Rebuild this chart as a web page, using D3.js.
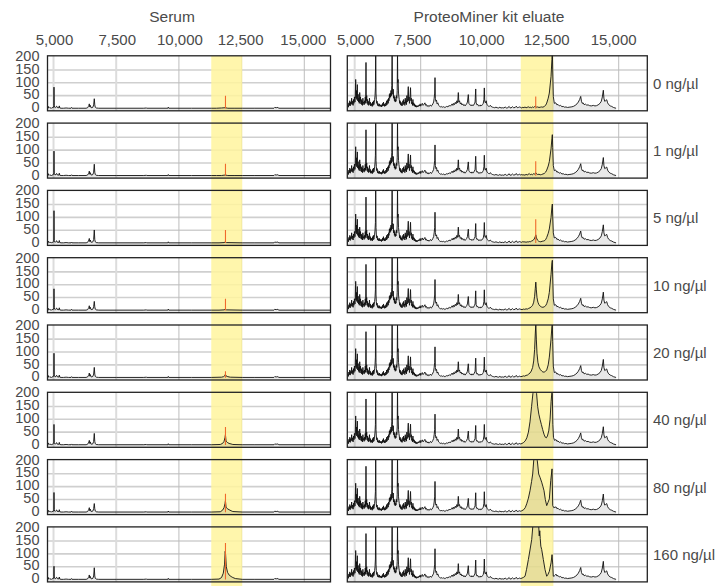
<!DOCTYPE html>
<html><head><meta charset="utf-8">
<script src="https://cdn.jsdelivr.net/npm/d3@7"></script>
<style>
body{margin:0;background:#fff}
text{font-family:"Liberation Sans",Arial,sans-serif;fill:#4a4a4a}
</style>
</head><body>
<svg id="c" width="726" height="586"></svg>
<script>
// ---------- data ----------
const columnTitles = ["Serum", "ProteoMiner kit eluate"];
const rowLabels = ["0 ng/µl","1 ng/µl","5 ng/µl","10 ng/µl","20 ng/µl","40 ng/µl","80 ng/µl","160 ng/µl"];
const xTicks = [5000, 7500, 10000, 12500, 15000];
const xTickLabels = ["5,000", "7,500", "10,000", "12,500", "15,000"];
const yTicks = [0, 50, 100, 150, 200];
const highlightRange = [11290, 12525];
const markerMz = 11857;

// serum: per-row heights of the main peaks
const serumPeakA = [83, 96, 126, 84, 95, 80, 77, 52];   // ~5,019
const serumPeakB = [38, 45, 51, 35, 40, 45, 34, 46];    // ~6,626
const serumMarker = [50, 47, 51, 45, 25, 70, 72, 142];
const eluateMarker = [47, 57, 93, null, null, null, null, null];

const serumStart = [[4760,3],[4775,6],[4792,8],[4805,2],[4830,4],[4860,1],[4890,3],[4920,1],[4950,4],[4980,2],[5000,5],[5010,12]];
const serumMid = [[5028,10],[5045,5],[5070,3],[5100,7],[5127,9],[5150,3],[5180,4],[5210,2],[5231,10],[5250,2],[5300,1],[5400,1],[5500,2],[5600,1],[5700,1],[5720,4],[5740,1],[6000,1],[6300,1],[6360,3],[6390,8],[6410,12],[6427,18],[6445,6],[6470,12],[6490,4],[6530,3],[6570,5],[6600,14]];
const serumTail = [[6645,14],[6665,5],[6700,2],[6800,1],[7500,1],[8600,1],[8700,2],[8720,1],[9560,1],[9577,5],[9595,1],[10500,1],[11290,1]];
const serumBand = [
  [[11290,1],[11500,1],[11700,2],[11850,3],[11950,1],[12200,1],[12525,1]],
  [[11290,1],[11500,1],[11700,1],[11850,3],[11950,1],[12200,1],[12525,1]],
  [[11290,1],[11600,1],[11800,2],[11850,4],[11900,2],[12525,1]],
  [[11290,1],[11600,1],[11800,2],[11850,4],[11900,2],[12525,1]],
  [[11290,1],[11700,2],[11780,4],[11830,8],[11850,12],[11880,7],[11950,4],[12050,2],[12525,1]],
  [[11290,1],[11650,2],[11740,6],[11800,14],[11840,30],[11855,40],[11880,15],[11930,10],[12000,6],[12080,4],[12150,2],[12525,1]],
  [[11290,1],[11650,2],[11740,8],[11800,18],[11840,35],[11855,45],[11880,20],[11930,14],[12000,10],[12080,6],[12150,3],[12525,1]],
  [[11290,1],[11600,2],[11700,8],[11770,25],[11820,60],[11845,110],[11860,100],[11890,50],[11940,28],[12000,18],[12080,12],[12150,8],[12250,4],[12525,1]]
];
const serumEnd = [[12525,1],[13000,1],[13790,1],[13820,4],[13880,3],[13950,4],[13985,1],[16045,1]];

// eluate: shared low-mass and high-mass traces, per-row highlighted region
const eluateLow = [[4720,8],[4740,15],[4760,5],[4780,22],[4800,12],[4815,30],[4830,10],[4850,25],[4870,18],[4885,40],[4900,15],[4920,28],[4940,12],[4955,35],[4970,20],[4990,45],[5010,25],[5025,60],[5038,113],[5050,40],[5065,70],[5080,35],[5100,93],[5115,30],[5130,55],[5145,25],[5160,40],[5175,20],[5190,62],[5205,28],[5220,45],[5235,18],[5250,35],[5265,15],[5280,30],[5295,12],[5310,40],[5325,20],[5340,25],[5355,14],[5370,30],[5385,18],[5400,45],[5415,22],[5428,179],[5440,30],[5455,50],[5470,20],[5485,35],[5500,15],[5515,28],[5530,12],[5545,22],[5560,40],[5575,15],[5590,25],[5605,10],[5620,20],[5635,12],[5650,18],[5665,8],[5680,25],[5695,12],[5710,30],[5725,15],[5740,22],[5755,35],[5770,50],[5785,80],[5796,220],[5808,60],[5820,35],[5835,20],[5850,28],[5865,12],[5880,20],[5895,10],[5910,15],[5925,8],[5940,18],[5955,10],[5970,14],[5985,8],[6000,12],[6015,6],[6030,15],[6045,9],[6060,20],[6075,10],[6090,25],[6105,12],[6120,18],[6135,8],[6150,14],[6165,10],[6180,22],[6195,12],[6210,30],[6225,15],[6240,25],[6255,35],[6270,20],[6285,40],[6300,30],[6315,55],[6330,40],[6345,60],[6360,45],[6375,70],[6390,50],[6405,90],[6418,220],[6430,80],[6445,55],[6460,75],[6475,40],[6490,50],[6505,30],[6520,45],[6535,25],[6550,35],[6565,28],[6580,50],[6595,40],[6610,70],[6622,220],[6632,100],[6645,113],[6660,60],[6675,45],[6690,35],[6705,20],[6720,30],[6735,15],[6750,25],[6765,12],[6780,20],[6795,10],[6810,18],[6825,30],[6840,15],[6855,35],[6870,20],[6885,25],[6900,12],[6915,40],[6930,20],[6945,30],[6960,15],[6975,50],[6990,25],[7005,40],[7030,85],[7045,30],[7060,45],[7075,20],[7090,35],[7115,81],[7130,30],[7145,40],[7160,18],[7175,25],[7190,12],[7205,35],[7220,15],[7235,22],[7250,10],[7265,18],[7280,8],[7295,14],[7310,6],[7325,12],[7340,5],[7360,10],[7380,6],[7400,12],[7420,8],[7440,14],[7460,10],[7480,18],[7500,9],[7530,15],[7560,20],[7590,12],[7620,16],[7660,22],[7690,12],[7720,15],[7750,8],[7780,12],[7810,7],[7840,10],[7870,14],[7900,9],[7930,12],[7960,18],[7990,25],[8010,40],[8030,60],[8042,120],[8055,40],[8075,28],[8100,32],[8120,18],[8150,22],[8180,12],[8210,9],[8240,7],[8270,5],[8300,8],[8330,5],[8360,7],[8390,4],[8420,6],[8450,5],[8480,8],[8510,6],[8540,10],[8570,8],[8600,12],[8630,9],[8660,14],[8690,18],[8720,12],[8750,20],[8780,15],[8810,24],[8840,18],[8870,30],[8900,22],[8925,62],[8945,25],[8970,30],[9000,18],[9030,22],[9060,14],[9090,18],[9120,12],[9150,15],[9180,10],[9210,14],[9240,18],[9270,25],[9303,54],[9325,20],[9350,16],[9380,12],[9410,15],[9440,10],[9470,14],[9500,12],[9530,18],[9560,25],[9584,76],[9600,22],[9630,14],[9660,16],[9690,10],[9720,12],[9750,9],[9780,14],[9810,11],[9840,15],[9870,20],[9895,35],[9910,80],[9925,28],[9950,22],[9980,30],[10010,15],[10040,12],[10070,9],[10100,8],[10130,12],[10160,10],[10190,6],[10220,5],[10260,4],[10300,3],[10350,5],[10400,3],[10450,2],[10500,5],[10540,2],[10600,3],[10650,2],[10700,6],[10740,2],[10800,3],[10850,8],[10880,3],[10920,2],[10980,7],[11020,3],[11080,4],[11120,9],[11160,3],[11200,4],[11250,6]];
const eluateBand = [
  [[11290,4],[11330,2],[11370,5],[11410,3],[11450,6],[11490,3],[11530,4],[11570,7],[11610,4],[11650,5],[11690,3],[11730,6],[11770,4],[11810,7],[11840,9],[11860,8],[11890,5],[11930,6],[11980,4],[12030,5],[12080,6],[12130,5],[12180,8],[12230,12],[12273,21],[12330,40],[12372,60],[12437,125],[12470,190],[12486,225],[12500,150],[12523,47],[12561,20],[12600,22]],
  [[11290,3],[11330,5],[11370,3],[11410,4],[11450,2],[11490,6],[11530,3],[11570,5],[11610,9],[11650,4],[11690,6],[11730,4],[11770,8],[11810,6],[11840,10],[11860,12],[11890,7],[11930,5],[11980,6],[12030,4],[12080,5],[12130,7],[12180,9],[12230,14],[12273,22],[12330,38],[12372,55],[12437,105],[12470,145],[12486,160],[12500,110],[12523,40],[12561,20],[12600,22]],
  [[11290,4],[11330,3],[11370,6],[11410,4],[11450,5],[11490,3],[11530,5],[11570,4],[11610,6],[11650,5],[11700,8],[11750,10],[11800,16],[11835,24],[11860,32],[11885,20],[11920,12],[11960,8],[12000,6],[12050,5],[12100,7],[12150,8],[12200,10],[12240,15],[12273,22],[12330,38],[12372,55],[12437,100],[12470,140],[12486,152],[12500,105],[12523,40],[12561,20],[12600,22]],
  [[11290,4],[11340,3],[11390,5],[11440,4],[11490,6],[11540,5],[11590,8],[11640,10],[11690,14],[11740,20],[11780,32],[11815,55],[11840,85],[11860,110],[11880,80],[11905,50],[11940,32],[11980,22],[12030,16],[12080,13],[12130,12],[12180,14],[12230,18],[12273,26],[12330,45],[12372,70],[12437,140],[12470,185],[12486,195],[12500,130],[12523,45],[12561,20],[12600,22]],
  [[11290,4],[11340,5],[11390,7],[11440,6],[11490,9],[11540,10],[11590,14],[11640,18],[11690,26],[11740,40],[11780,65],[11815,110],[11840,170],[11860,210],[11880,150],[11905,95],[11940,60],[11980,42],[12030,32],[12080,26],[12130,22],[12180,22],[12230,25],[12273,30],[12330,50],[12372,80],[12437,150],[12470,200],[12486,210],[12500,140],[12523,45],[12561,20],[12600,22]],
  [[11290,4],[11340,6],[11400,10],[11460,16],[11520,28],[11580,50],[11640,90],[11700,150],[11750,200],[11790,230],[11830,230],[11860,230],[11890,200],[11930,150],[11975,120],[12020,100],[12070,80],[12120,60],[12170,42],[12220,30],[12260,28],[12300,35],[12350,55],[12400,100],[12440,170],[12470,205],[12486,200],[12505,80],[12530,30],[12570,18],[12600,20]],
  [[11290,4],[11330,6],[11400,10],[11460,18],[11516,33],[11580,55],[11641,84],[11700,120],[11742,149],[11780,200],[11803,230],[11860,235],[11900,230],[11917,201],[11969,149],[12020,136],[12083,117],[12130,100],[12171,84],[12220,50],[12273,26],[12320,38],[12372,52],[12425,123],[12475,169],[12501,26],[12540,18],[12588,20],[12600,20]],
  [[11290,4],[11340,6],[11400,9],[11452,13],[11510,40],[11578,78],[11640,115],[11705,156],[11765,230],[11830,240],[11900,240],[11960,230],[11990,170],[12010,190],[12028,160],[12050,130],[12083,117],[12145,78],[12209,39],[12273,13],[12320,20],[12372,32],[12437,65],[12475,97],[12500,60],[12523,13],[12560,14],[12600,18]]
];
const eluateHigh = [[12626,21],[12660,14],[12700,16],[12750,10],[12800,12],[12850,7],[12900,8],[12950,5],[13000,6],[13060,4],[13120,5],[13200,6],[13281,8],[13350,12],[13420,18],[13470,25],[13520,35],[13561,47],[13590,28],[13620,20],[13650,22],[13690,15],[13740,17],[13790,13],[13840,14],[13900,11],[13960,10],[14039,12],[14100,10],[14160,11],[14220,14],[14292,20],[14340,28],[14380,45],[14418,71],[14440,40],[14470,28],[14500,30],[14546,34],[14580,22],[14620,15],[14680,10],[14735,8],[14800,4],[14861,2],[14900,1]];

// ---------- layout ----------
const svg = d3.select("#c");
const cols = [
  {x0: 47.5, x1: 330.5, domain: [4760, 16045], titleX: 172, labelDx: [1,1,1,-1,-1]},
  {x0: 347.3, x1: 647.3, domain: [4720, 16083], titleX: 489, labelDx: [1,-8,-5,-6,-5]}
];
const rowTop = i => 55.8 + i * 67.3;
const panelH = 55;
const yDomain = [-9, 205];

function traceFor(c, r) {
  if (c === 0) {
    return serumStart.concat([[5019, serumPeakA[r]]], serumMid, [[6626, serumPeakB[r]]], serumTail, serumBand[r], serumEnd);
  }
  return eluateLow.concat(eluateBand[r], eluateHigh);
}

const defs = svg.append("defs");
const panelLayer = svg.append("g");
const bandLayer = svg.append("g");
const dataLayer = svg.append("g");
const borderLayer = svg.append("g");

cols.forEach((col, c) => {
  const x = d3.scaleLinear().domain(col.domain).range([col.x0, col.x1]);
  svg.append("text").attr("x", col.titleX).attr("y", 21.5).attr("text-anchor", "middle")
     .style("font-size", "15.5px").text(columnTitles[c]);
  svg.append("g").selectAll("text").data(xTicks).join("text")
     .attr("x", (d, i) => x(d) + col.labelDx[i]).attr("y", 44.5).attr("text-anchor", "middle")
     .style("font-size", "15px").text((d, i) => xTickLabels[i]);

  bandLayer.append("rect")
    .attr("x", x(highlightRange[0])).attr("width", x(highlightRange[1]) - x(highlightRange[0]))
    .attr("y", rowTop(0)).attr("height", 586 - rowTop(0))
    .attr("fill", "#fff59d").attr("fill-opacity", 0.85);

  rowLabels.forEach((lab, r) => {
    const top = rowTop(r);
    const y = d3.scaleLinear().domain(yDomain).range([top + panelH, top]);
    const clipId = `clip-${c}-${r}`;
    defs.append("clipPath").attr("id", clipId).append("rect")
      .attr("x", col.x0).attr("y", top).attr("width", col.x1 - col.x0).attr("height", panelH);

    const pg = panelLayer.append("g");
    pg.append("rect").attr("x", col.x0).attr("y", top).attr("width", col.x1 - col.x0).attr("height", panelH).attr("fill", "#fff");
    pg.selectAll("line.h").data([50, 100, 150]).join("line")
      .attr("x1", col.x0).attr("x2", col.x1).attr("y1", d => y(d)).attr("y2", d => y(d))
      .attr("stroke", "#cfcfcf").attr("stroke-width", 1.6);
    pg.selectAll("line.v").data(xTicks).join("line")
      .attr("x1", d => x(d)).attr("x2", d => x(d)).attr("y1", top).attr("y2", top + panelH)
      .attr("stroke", (d, i) => (i === 0 || (c === 0 && i === 1)) ? "#dcdcdc" : "#bdbdbd")
      .attr("stroke-width", (d, i) => (i === 0 || (c === 0 && i === 1)) ? 2 : 1);

    if (c === 0) {
      svg.append("g").selectAll("text").data(yTicks).join("text")
        .attr("x", 39.5).attr("y", d => y(d) - 1.5).attr("dy", "0.36em")
        .attr("text-anchor", "end").style("font-size", "14.5px").text(d => d);
    } else {
      svg.append("text").attr("x", 653).attr("y", top + panelH / 2).attr("dy", "0.36em")
        .style("font-size", "15px").text(lab);
    }

    const pts = traceFor(c, r);
    const dg = dataLayer.append("g").attr("clip-path", `url(#${clipId})`);
    dg.append("path").datum(pts)
      .attr("d", d3.area().x(d => x(d[0])).y0(top + panelH).y1(d => y(d[1])))
      .attr("fill", "#000").attr("fill-opacity", 0.09);
    dg.append("path").datum(pts)
      .attr("d", d3.line().x(d => x(d[0])).y(d => y(d[1])))
      .attr("fill", "none").attr("stroke", "#111").attr("stroke-width", 0.9).attr("stroke-linejoin", "round");
    const m = c === 0 ? serumMarker[r] : eluateMarker[r];
    if (m != null) {
      dg.append("line").attr("x1", x(markerMz)).attr("x2", x(markerMz))
        .attr("y1", y(0)).attr("y2", y(m)).attr("stroke", "#f06a2c").attr("stroke-width", 1.1);
    }

    borderLayer.append("rect").attr("x", col.x0).attr("y", top).attr("width", col.x1 - col.x0).attr("height", panelH)
      .attr("fill", "none").attr("stroke", "#222").attr("stroke-width", 1.3);
  });
});
</script>
</body></html>
